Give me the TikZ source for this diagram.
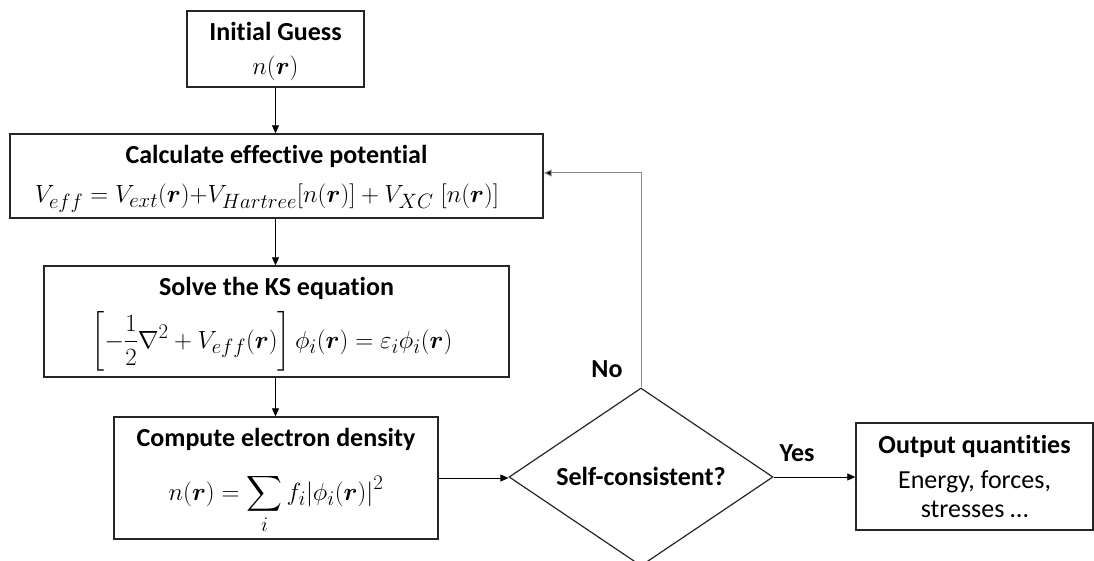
\documentclass[tikz,border=0pt]{standalone}
\usepackage{amsmath,bm}
\usepackage{fontspec}
\setmainfont{Carlito}[Ligatures=NoCommon]
\usetikzlibrary{shapes.geometric,arrows.meta}
\begin{document}
\begin{tikzpicture}[x=1pt,y=-1pt,
  box/.style={draw=black!85,line width=1.4pt,inner sep=0pt},
  decision/.style={diamond,draw=black!85,line width=1.2pt,inner sep=0pt,aspect=1.48},
  ttl/.style={anchor=base,inner sep=0pt,font=\fontsize{26}{31}\selectfont\bfseries},
  txt/.style={anchor=base,inner sep=0pt,font=\fontsize{26}{31}\selectfont},
  conn/.style={draw=black,line width=0.8pt,-{Triangle[length=8pt,width=7pt]}},
  back/.style={draw=black!45,line width=1pt,-{Triangle[length=8pt,width=7pt,fill=black]}}]
\useasboundingbox (0,0) rectangle (1094,561);
\clip (0,0) rectangle (1094,561);

% boxes
\node[box,minimum width=177pt,minimum height=76pt] (init) at (275.5,49) {};
\node[box,minimum width=533pt,minimum height=84pt] (calc) at (276.5,176) {};
\node[box,minimum width=465pt,minimum height=111pt] (solve) at (276.5,321.5) {};
\node[box,minimum width=324pt,minimum height=122pt] (comp) at (276,478) {};
\node[decision,minimum width=264pt,minimum height=178pt] (dia) at (641,477) {};
\node[box,minimum width=237pt,minimum height=107pt] (out) at (974.5,476.5) {};

% texts
\node[ttl] (initT) at (275.5,41) {Initial Guess};
\node[txt,font=\fontsize{31}{34}\selectfont] (initF) at (275.5,75) {$n(\bm r)$};

\node[ttl] (calcT) at (276.5,164) {Calculate effective potential};
\node[txt,font=\fontsize{30}{34}\selectfont] (calcF) at (267,203)
  {$V_{eff} = V_{ext}(\bm r){+}V_{Hartree}[n(\bm r)] + V_{XC}\;[n(\bm r)]$};

\node[ttl] (solveT) at (276.5,295) {Solve the KS equation};
\node[txt,font=\fontsize{29}{32}\selectfont] (solveF) at (272,348)
  {$\left[-\dfrac{1}{2}\nabla^2 + V_{eff}(\bm r)\right]\phi_i(\bm r) = \varepsilon_i\phi_i(\bm r)$};

\node[ttl] (compT) at (276,446) {Compute electron density};
\node[txt,font=\fontsize{28.5}{32}\selectfont] (compF) at (276,500)
  {$\displaystyle n(\bm r) = \sum_i f_i|\phi_i(\bm r)|^2$};

\node[ttl] (diaT) at (641,485) {Self-consistent?};

\node[ttl] (outT) at (974.5,453) {Output quantities};
\node[txt] (outL1) at (974.5,488) {Energy, forces,};
\node[txt] (outL2) at (974.5,517) {stresses \dots};

% connectors
\draw[conn] (init.south) -- (init.south |- calc.north);
\draw[conn] (calc.south -| init.south) -- (init.south |- solve.north);
\draw[conn] (solve.south -| init.south) -- (init.south |- comp.north);
\draw[conn] (comp.east) -- (comp.east -| dia.west);
\draw[back] (dia.north) |- ([yshift=3pt]calc.east);
\draw[conn] (dia.east) -- (dia.east -| out.west);

\node[ttl] (no) at (607,377) {No};
\node[ttl] (yes) at (797,461) {Yes};
\end{tikzpicture}
\end{document}
